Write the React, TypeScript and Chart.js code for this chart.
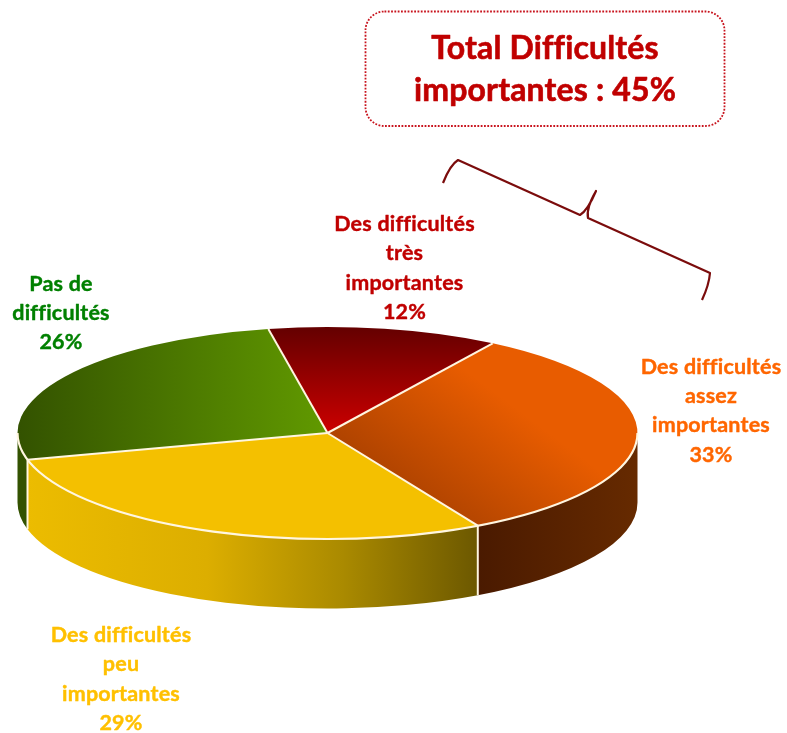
import React, { useEffect, useRef } from "react";
import { Chart, registerables } from "chart.js";

Chart.register(...registerables);

const categories = [
  "Des difficultés très importantes",
  "Des difficultés assez importantes",
  "Des difficultés peu importantes",
  "Pas de difficultés",
];
const shares = [12, 33, 29, 26];
const labelLines = [
  ["Des difficultés", "très", "importantes", "12%"],
  ["Des difficultés", "assez", "importantes", "33%"],
  ["Des difficultés", "peu", "importantes", "29%"],
  ["Pas de", "difficultés", "26%"],
];
const labelColors = ["#c00000", "#ff6600", "#ffc000", "#008000"];
const calloutLines = ["Total Difficultés", "importantes : 45%"];

const W = 787;
const H = 733;
const CX = 327.5;
const CY = 433;
const RX = 310;
const RY = 106;
const DEPTH = 69.5;
const RIM = "#fff6e0";

// Position of each label block: centre x, first-line y, line step
const labelPos = [
  [404.5, 224, 29.4],
  [711, 367, 29.2],
  [121, 635, 29.4],
  [61, 284, 29],
];

// Gradient given in page pixels; its iso-lines stay perpendicular to the page direction
// once the chart's squash transform is applied at fill time.
function grad(chart: any, x0: number, y0: number, x1: number, y1: number, stops: [number, string][]) {
  const a = chart.chartArea;
  const cx = (a.left + a.right) / 2;
  const cy = (a.top + a.bottom) / 2;
  const R = Math.min(a.right - a.left, a.bottom - a.top) / 2;
  const sx = R / RX;
  const sy = R / RY;
  const qx = cx + (x0 - CX) * sx;
  const qy = cy + (y0 - CY) * sy;
  const dx = x1 - x0;
  const dy = y1 - y0;
  const gx = dx * sy;
  const gy = dy * sx;
  const k = (sx * sy * (dx * dx + dy * dy)) / (gx * gx + gy * gy);
  const g = chart.ctx.createLinearGradient(qx, qy, qx + k * gx, qy + k * gy);
  stops.forEach(([o, c]) => g.addColorStop(o, c));
  return g;
}

function topFill(c: any) {
  const chart = c.chart;
  const fallback = ["#a00000", "#e05800", "#f4c000", "#4f8000"][c.dataIndex];
  if (!chart.chartArea) return fallback;
  switch (c.dataIndex) {
    case 0:
      return grad(chart, 0, 329, 0, 433, [[0, "#660000"], [1, "#cc0000"]]);
    case 1:
      return grad(chart, 375, 490, 465, 370, [[0, "#a84000"], [1, "#e85c00"]]);
    case 2:
      return "#f4c000";
    default:
      return grad(chart, 17, 0, 320, 0, [[0, "#335200"], [1, "#609800"]]);
  }
}

function wallFill(ctx: CanvasRenderingContext2D, i: number) {
  const mk = (x0: number, x1: number, stops: [number, string][]) => {
    const g = ctx.createLinearGradient(x0, 0, x1, 0);
    stops.forEach(([o, c]) => g.addColorStop(o, c));
    return g;
  };
  if (i === 1) return mk(478, 637, [[0, "#4a1a00"], [1, "#662a00"]]);
  if (i === 2)
    return mk(27, 478, [
      [0, "#ecbc00"],
      [0.4, "#dcae00"],
      [0.7, "#aa8a00"],
      [1, "#6c5800"],
    ]);
  return "#335200";
}

function heavyText(ctx: CanvasRenderingContext2D, t: string, x: number, y: number, weight: number) {
  ctx.lineWidth = weight;
  ctx.strokeStyle = ctx.fillStyle as string;
  ctx.lineJoin = "round";
  ctx.strokeText(t, x, y);
  ctx.fillText(t, x, y);
}

const pie3d = {
  id: "pie3d",
  beforeDatasetsDraw(chart: any) {
    const ctx = chart.ctx as CanvasRenderingContext2D;
    const arcs = chart.getDatasetMeta(0).data;
    // Side walls
    arcs.forEach((arc: any, i: number) => {
      const s = Math.max(arc.startAngle, 0);
      const e = Math.min(arc.endAngle, Math.PI);
      if (e <= s) return;
      ctx.save();
      ctx.beginPath();
      ctx.ellipse(CX, CY, RX, RY, 0, s, e);
      ctx.lineTo(CX + RX * Math.cos(e), CY + RY * Math.sin(e) + DEPTH);
      ctx.ellipse(CX, CY + DEPTH, RX, RY, 0, e, s, true);
      ctx.closePath();
      ctx.fillStyle = wallFill(ctx, i);
      ctx.fill();
      ctx.restore();
    });
    // Squash the library's round pie to the tilted ellipse
    const a0 = arcs[0];
    ctx.save();
    ctx.translate(CX, CY);
    ctx.scale(RX / a0.outerRadius, RY / a0.outerRadius);
    ctx.translate(-a0.x, -a0.y);
  },
  afterDatasetsDraw(chart: any) {
    const ctx = chart.ctx as CanvasRenderingContext2D;
    ctx.restore();
    const arcs = chart.getDatasetMeta(0).data;

    ctx.save();
    ctx.strokeStyle = RIM;
    ctx.lineJoin = "round";
    // separators between top slices and walls
    ctx.lineWidth = 2;
    arcs.forEach((arc: any) => {
      const x = CX + RX * Math.cos(arc.startAngle);
      const y = CY + RY * Math.sin(arc.startAngle);
      ctx.beginPath();
      ctx.moveTo(CX, CY);
      ctx.lineTo(x, y);
      ctx.stroke();
      const sin = Math.sin(arc.startAngle);
      if (sin > 0) {
        ctx.beginPath();
        ctx.moveTo(x, y);
        ctx.lineTo(x, y + DEPTH);
        ctx.stroke();
      }
    });
    // front rim
    ctx.lineWidth = 2.2;
    ctx.beginPath();
    ctx.ellipse(CX, CY, RX, RY, 0, 0, Math.PI);
    ctx.stroke();
    ctx.restore();

    // Category labels
    ctx.save();
    ctx.textAlign = "center";
    ctx.textBaseline = "middle";
    ctx.font = "bold 21.5px Lato";
    (ctx as any).letterSpacing = "0.2px";
    labelLines.forEach((lines, i) => {
      const [x, y, step] = labelPos[i];
      ctx.fillStyle = labelColors[i];
      lines.forEach((t, j) => heavyText(ctx, t, x, y + j * step, 0.4));
    });
    ctx.restore();

    // Callout box
    ctx.save();
    ctx.strokeStyle = "#c8141e";
    ctx.lineWidth = 1.8;
    ctx.setLineDash([1.8, 1.5]);
    ctx.beginPath();
    ctx.roundRect(365.5, 11.5, 359, 114.5, 19);
    ctx.stroke();
    ctx.setLineDash([]);
    ctx.fillStyle = "#c00000";
    ctx.textAlign = "center";
    ctx.textBaseline = "middle";
    ctx.font = "bold 32px Lato";
    (ctx as any).letterSpacing = "0.15px";
    calloutLines.forEach((t, j) => heavyText(ctx, t, 545, 49 + j * 42, 0.6));
    ctx.restore();

    // Brace
    ctx.save();
    ctx.strokeStyle = "#7b0c0c";
    ctx.lineWidth = 2.2;
    ctx.lineJoin = "round";
    ctx.beginPath();
    ctx.moveTo(443, 183);
    ctx.quadraticCurveTo(450, 165, 458, 160);
    ctx.lineTo(580, 215);
    ctx.quadraticCurveTo(588, 210, 596, 191);
    ctx.quadraticCurveTo(586, 208, 588, 218);
    ctx.lineTo(710, 273);
    ctx.quadraticCurveTo(709, 285, 702, 300);
    ctx.stroke();
    ctx.restore();
  },
};

export default function App() {
  const ref = useRef<HTMLCanvasElement>(null);
  useEffect(() => {
    const chart = new Chart(ref.current!, {
      type: "pie",
      data: {
        labels: categories,
        datasets: [
          {
            data: shares,
            backgroundColor: topFill as any,
            borderWidth: 0,
          },
        ],
      },
      options: {
        responsive: false,
        animation: false,
        rotation: -11,
        layout: { padding: 0 },
        plugins: { legend: { display: false }, tooltip: { enabled: false } },
      },
      plugins: [pie3d],
    });
    return () => chart.destroy();
  }, []);
  return (
    <div style={{ position: "absolute", left: 0, top: 0, width: W, height: H, background: "#fff" }}>
      <canvas ref={ref} width={W} height={H} style={{ display: "block" }} />
    </div>
  );
}
